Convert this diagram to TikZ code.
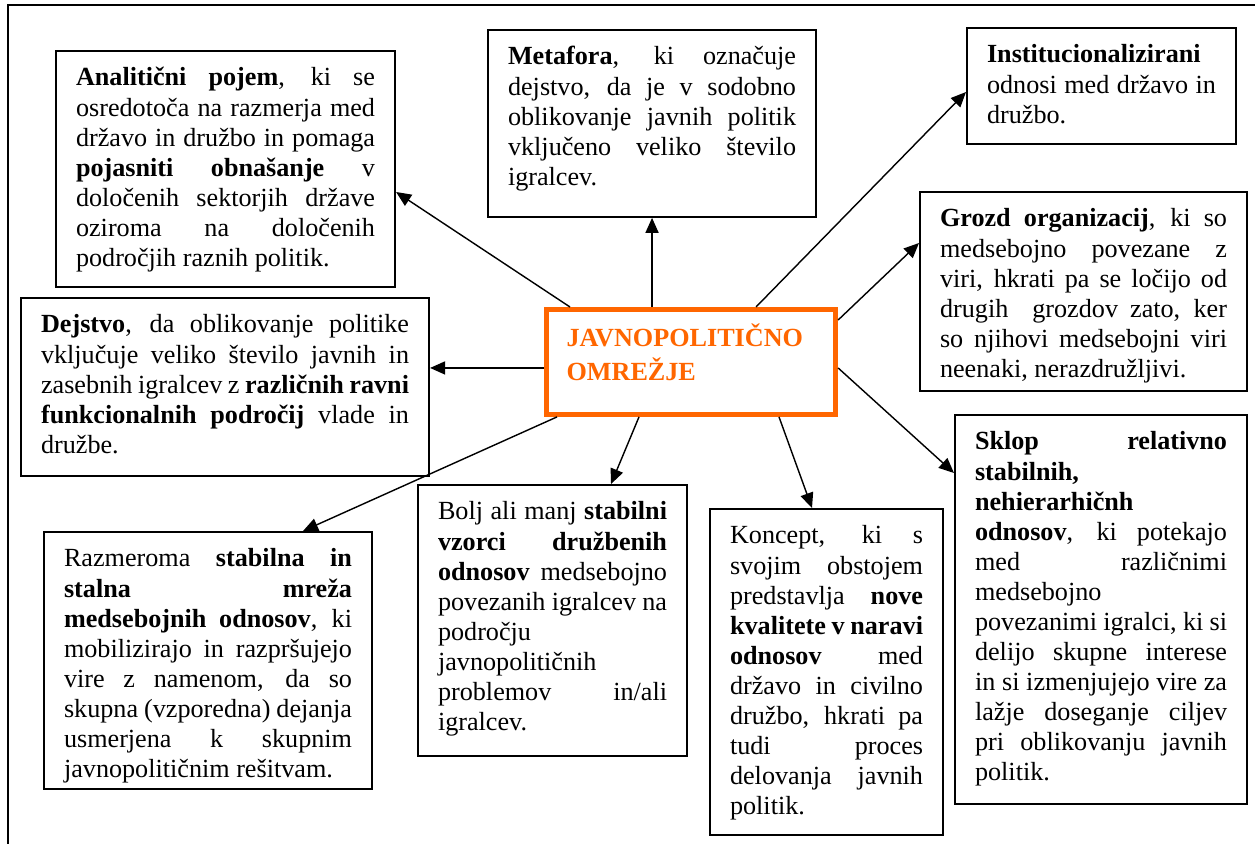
\documentclass[tikz,border=0pt]{standalone}
\usepackage{fontspec}
\setmainfont{Liberation Serif}
\usetikzlibrary{arrows.meta,calc}
\definecolor{omrezje}{RGB}{255,102,0}
\newlength\px
\setlength\px{0.4587pt}
\hyphenpenalty=10000
\exhyphenpenalty=10000
\newcommand{\boxpar}[3]{\parbox[t][#2\px][t]{#1\px}{\fontsize{12}{13.8}\selectfont\tolerance=10000\hbadness=10000\strut #3}}
\begin{document}
\begin{tikzpicture}[x=0.4587pt, y=-0.4587pt,
	box/.style={draw, line width=0.9pt, anchor=north west, inner xsep=9.2pt, inner ysep=6.4pt},
	hub/.style={box, draw=omrezje, line width=2.3pt, text=omrezje},
	arrow/.style={line width=0.65pt, -{Triangle[length=6.9pt, width=6pt]}}]
	\useasboundingbox (0,0) rectangle (1255,844);
	\draw[line width=0.9pt] (1255,5) -- (8,5) -- (8,844);
	\node[hub] (jedro) at (544,307) {\boxpar{249}{77}{\textbf{JAVNOPOLITIČNO\\OMREŽJE}}};
	\node[box] (analiticni) at (55,50) {\boxpar{299}{208}{\textbf{Analitični pojem}, ki se\linebreak osredotoča na razmerja med\linebreak državo in družbo in pomaga\linebreak \textbf{pojasniti obnašanje} v\linebreak določenih sektorjih države\linebreak oziroma na določenih\linebreak področjih raznih politik.}};
	\node[box] (metafora) at (487,29) {\boxpar{288}{159}{\textbf{Metafora}, ki označuje\linebreak dejstvo, da je v sodobno\linebreak oblikovanje javnih politik\linebreak vključeno veliko število\linebreak igralcev.}};
	\node[box] (institucije) at (966,27) {\boxpar{229}{88}{\textbf{Institucionalizirani}\linebreak odnosi med državo in\linebreak družbo.}};
	\node[box] (grozd) at (919,191) {\boxpar{287}{171}{\textbf{Grozd organizacij}, ki so\linebreak medsebojno povezane z\linebreak viri, hkrati pa se ločijo od\linebreak drugih~ grozdov zato, ker\linebreak so njihovi medsebojni viri\linebreak neenaki, nerazdružljivi.}};
	\node[box] (dejstvo) at (20,297) {\boxpar{368}{150}{\textbf{Dejstvo}, da oblikovanje politike\linebreak vključuje veliko število javnih in\linebreak zasebnih igralcev z \textbf{različnih ravni}\linebreak \textbf{funkcionalnih področij} vlade in\linebreak družbe.}};
	\node[box] (razmeroma) at (43,531) {\boxpar{288}{229}{Razmeroma \textbf{stabilna in}\linebreak \textbf{stalna mreža}\linebreak \textbf{medsebojnih odnosov}, ki\linebreak mobilizirajo in razpršujejo\linebreak vire z namenom, da so\linebreak skupna (vzporedna) dejanja\linebreak usmerjena k skupnim\linebreak javnopolitičnim rešitvam.}};
	\node[box] (vzorci) at (417,484) {\boxpar{229}{243}{Bolj ali manj \textbf{stabilni}\linebreak \textbf{vzorci družbenih}\linebreak \textbf{odnosov} medsebojno\linebreak povezanih igralcev na\linebreak področju\linebreak javnopolitičnih\linebreak problemov in/ali\linebreak igralcev.}};
	\node[box] (koncept) at (709,508) {\boxpar{193}{298}{Koncept, ki s\linebreak svojim obstojem\linebreak predstavlja \textbf{nove}\linebreak \textbf{kvalitete v naravi}\linebreak \textbf{odnosov} med\linebreak državo in civilno\linebreak družbo, hkrati pa\linebreak tudi proces\linebreak delovanja javnih\linebreak politik.}};
	\node[box] (sklop) at (954,414) {\boxpar{252}{361}{\textbf{Sklop relativno}\linebreak \textbf{stabilnih,}\linebreak \textbf{nehierarhičnh}\linebreak \textbf{odnosov}, ki potekajo\linebreak med različnimi\linebreak medsebojno\linebreak povezanimi igralci, ki si\linebreak delijo skupne interese\linebreak in si izmenjujejo vire za\linebreak lažje doseganje ciljev\linebreak pri oblikovanju javnih\linebreak politik.}};
	\draw[arrow] ($(jedro.north west)+(26,0)$) -- ($(analiticni.north east)+(0,142)$);
	\draw[arrow] (metafora.south |- jedro.north) -- (metafora.south);
	\draw[arrow] ($(jedro.north west)+(212,0)$) -- ($(institucije.north west)+(0,65)$);
	\draw[arrow] ($(jedro.north east)+(0,13)$) -- ($(grozd.north west)+(0,52)$);
	\draw[arrow] ($(jedro.west)+(0,6)$) coordinate (dz) -- (dz -| dejstvo.east);
	\draw[arrow] ($(jedro.east)+(0,6)$) -- ($(sklop.north west)+(0,59)$);
	\draw[arrow] ($(jedro.south west)+(13,0)$) -- ($(razmeroma.north west)+(260,0)$);
	\draw[arrow] ($(jedro.south west)+(95,0)$) -- ($(vzorci.north west)+(194,0)$);
	\draw[arrow] ($(jedro.south west)+(235,0)$) -- ($(koncept.north west)+(103,0)$);
\end{tikzpicture}
\end{document}
